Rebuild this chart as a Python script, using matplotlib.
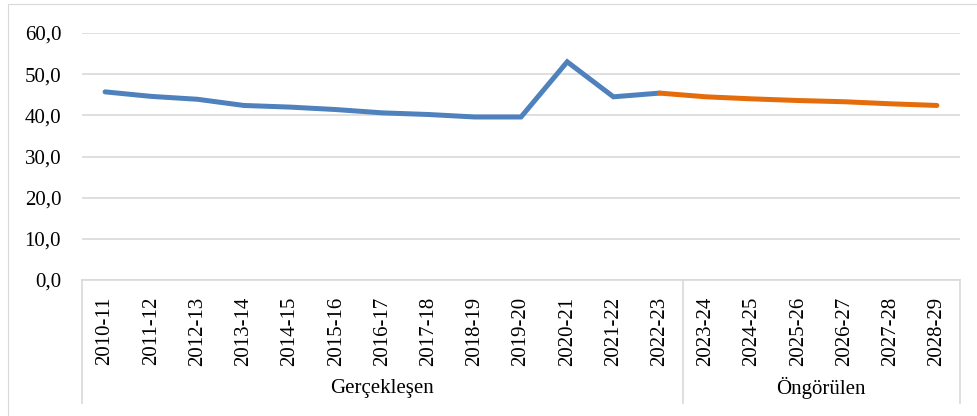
import numpy as np
import matplotlib
matplotlib.use('Agg')
import matplotlib.pyplot as plt
from matplotlib.patches import Rectangle
import matplotlib.transforms as mtransforms

plt.rcParams['font.family'] = ['Liberation Serif', 'DejaVu Serif']

periods = ['2010-11', '2011-12', '2012-13', '2013-14', '2014-15', '2015-16', '2016-17',
           '2017-18', '2018-19', '2019-20', '2020-21', '2021-22', '2022-23',
           '2023-24', '2024-25', '2025-26', '2026-27', '2027-28', '2028-29']
actual = [45.7, 44.6, 43.9, 42.4, 42.0, 41.4, 40.6, 40.2, 39.6, 39.6, 53.0, 44.5, 45.4]
forecast = [45.4, 44.5, 44.0, 43.6, 43.3, 42.8, 42.4]
groups = ['Gerçekleşen', 'Öngörülen']
group_sizes = [13, 6]
yticks = [0, 10, 20, 30, 40, 50, 60]

W, H = 978, 416
fig = plt.figure(figsize=(W / 100, H / 100), dpi=100)

# outer chart border (only left/top visible in the crop)
fig.patches.append(Rectangle((8 / W, -0.1), 1.2, (H - 4) / H + 0.1, transform=fig.transFigure,
                             fill=False, edgecolor='#d9d9d9', lw=0.8))

x0, x1, ytop, ybot = 82, 960, 33, 280
ax = fig.add_axes([x0 / W, (H - ybot) / H, (x1 - x0) / W, (ybot - ytop) / H])

x = np.arange(len(periods))
n_act = len(actual)
ax.plot(x[:n_act], actual, color='#4F81BD', lw=3.6, solid_capstyle='round', solid_joinstyle='miter', zorder=3)
ax.plot(x[n_act - 1:], forecast, color='#E46C0A', lw=3.6, solid_capstyle='round', zorder=3)

ax.set_xlim(-0.5, len(periods) - 0.5)
ax.set_ylim(0, 60)
ax.set_yticks(yticks)
ax.set_yticklabels([f'{v:.1f}'.replace('.', ',') for v in yticks], fontsize=15)
ax.yaxis.grid(True, color='#d9d9d9', lw=1.2)
ax.set_axisbelow(True)
ax.tick_params(axis='y', length=0, pad=15)

ax.set_xticks(x)
ax.set_xticklabels(periods, rotation=90, fontsize=15, va='top')
ax.tick_params(axis='x', length=0, pad=12)

for s in ['top', 'right', 'left']:
    ax.spines[s].set_visible(False)
ax.spines['bottom'].set_color('#d9d9d9')
ax.spines['bottom'].set_linewidth(1.2)

# category group separators and labels
trans = mtransforms.blended_transform_factory(ax.transData, ax.transAxes)
depth = -(403 - ybot) / (ybot - ytop)
edges = np.concatenate([[0], np.cumsum(group_sizes)]) - 0.5
for e in edges:
    ax.plot([e, e], [0, depth], transform=trans, color='#d9d9d9', lw=1.2, clip_on=False)
label_y = -(388 - ybot) / (ybot - ytop)
for g, a, b in zip(groups, edges[:-1], edges[1:]):
    ax.text((a + b) / 2, label_y, g, transform=trans, ha='center', va='center', fontsize=15)

fig.savefig('out.png', dpi=100)
